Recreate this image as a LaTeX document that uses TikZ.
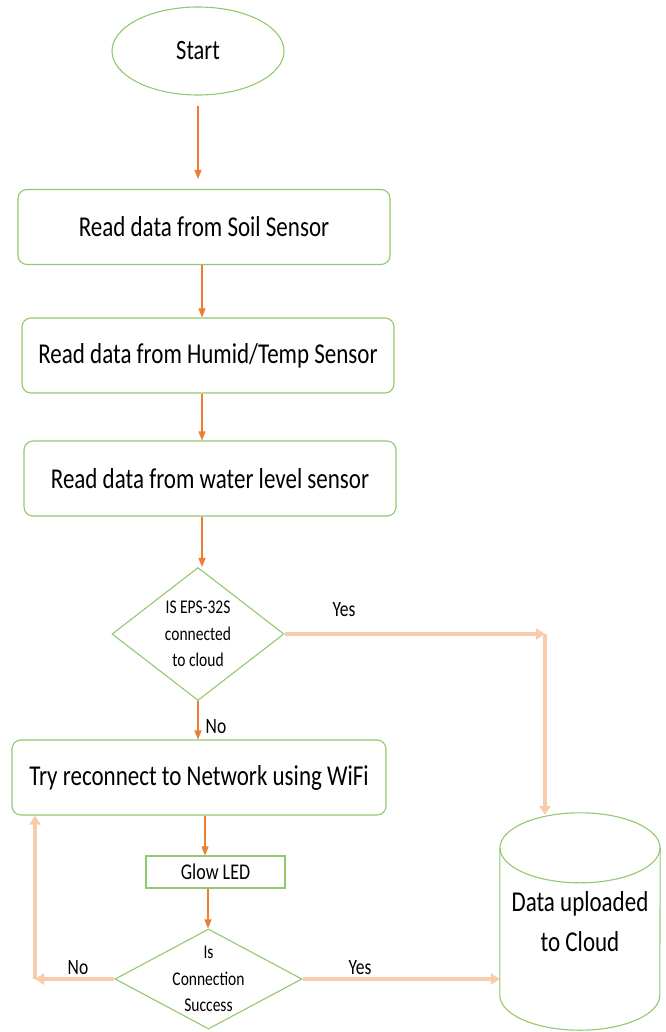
\documentclass[tikz,border=0pt]{standalone}
\usepackage{fontspec}
\setmainfont{Carlito}[FakeStretch=0.8]
\usetikzlibrary{shapes.geometric,arrows.meta}
\definecolor{boxgreen}{RGB}{146,200,110}
\definecolor{flowline}{RGB}{237,125,49}
\definecolor{loopline}{RGB}{248,203,173}
\tikzset{
	startnode/.style={ellipse,draw=boxgreen,line width=1.1pt,minimum width=172,minimum height=88,font=\fontsize{28}{32}\selectfont},
	procbox/.style={rectangle,rounded corners=9pt,draw=boxgreen,line width=1.1pt,minimum width=372,minimum height=75,font=\fontsize{28.75}{32}\selectfont},
	ledbox/.style={rectangle,draw=boxgreen,line width=1.1pt,minimum width=139,minimum height=32,inner sep=0pt,font=\fontsize{22.5}{24}\selectfont},
	decision/.style={diamond,draw=boxgreen,line width=1.1pt,inner sep=-3pt,align=center,font=\fontsize{19.4}{26.5}\selectfont},
	dbnode/.style={rectangle,minimum width=160,minimum height=217,align=center,font=\fontsize{28.75}{40}\selectfont},
	dbline/.style={draw=boxgreen,line width=1.1pt},
	flow/.style={draw=flowline,line width=1.2pt,-{Triangle[length=9pt,width=7pt]}},
	loop/.style={draw=loopline,line width=4pt,-{Triangle[length=9pt,width=11pt]}},
	lbl/.style={font=\fontsize{21.9}{24}\selectfont}
}
\begin{document}
\begin{tikzpicture}[x=1pt,y=-1pt]
	\useasboundingbox (0,0) rectangle (665,1032);
	\node [startnode] (start) at (198,51) {Start};
	\node [procbox] (soil) at (204,227) {Read data from Soil Sensor};
	\node [procbox] (humid) at (208,355.5) {Read data from Humid/Temp Sensor};
	\node [procbox] (water) at (210,478.5) {Read data from water level sensor};
	\node [decision,minimum width=172,minimum height=133,aspect=1.29] (cloudq) at (198,634) {IS EPS-32S\\connected\\to cloud};
	\node [procbox,minimum width=374] (wifi) at (199,777.5) {Try reconnect to Network using WiFi};
	\node [ledbox] (led) at (215.5,872) {Glow LED};
	\node [decision,minimum width=187,minimum height=100,aspect=1.87] (connq) at (208.5,979) {Is\\Connection\\Success};
	\node [dbnode] (db) at (580,921.5) {Data uploaded\\to Cloud};
	\draw [dbline] ([yshift=-35pt]db.north west) -- ([yshift=35pt]db.south west)
		arc [start angle=180,end angle=360,x radius=80pt,y radius=35pt] -- ([yshift=-35pt]db.north east);
	\draw [dbline] ([yshift=-35pt]db.north) ellipse [x radius=80pt,y radius=35pt];
	\coordinate (yescorner) at (545,634);
	\coordinate (nocorner) at (35,979);
	%\draw [flow] (start) -- (soil);
	\draw [flow] ([yshift=-10pt]start.south) -- ([yshift=10pt]start.south |- soil.north);
	\draw [flow] (soil.south -| 202,0) -- (202,0 |- humid.north);
	\draw [flow] (humid.south -| 202,0) -- (202,0 |- water.north);
	\draw [flow] (water.south -| 202,0) -- (202,0 |- cloudq.north);
	\draw [flow] (cloudq.south) -- (cloudq.south |- wifi.north);
	\draw [flow] (wifi.south -| 205,0) -- (205,0 |- led.north);
	\draw [flow] (led.south -| 208,0) -- (208,0 |- connq.north);
	\draw [loop] (cloudq.east) -- (yescorner);
	\draw [loop] (yescorner) -- ([yshift=-2pt]yescorner |- db.north);
	\draw [loop] (connq.east) -- (connq.east -| db.west);
	\draw [loop] (connq.west) -- (nocorner);
	\draw [loop] (nocorner) -- (nocorner |- wifi.south);
	\node [lbl] (yestop) at (344,610) {Yes};
	\node [lbl] (notop) at (216,727) {No};
	\node [lbl] (nobottom) at (78,968) {No};
	\node [lbl] (yesbottom) at (360,968) {Yes};
\end{tikzpicture}
\end{document}
